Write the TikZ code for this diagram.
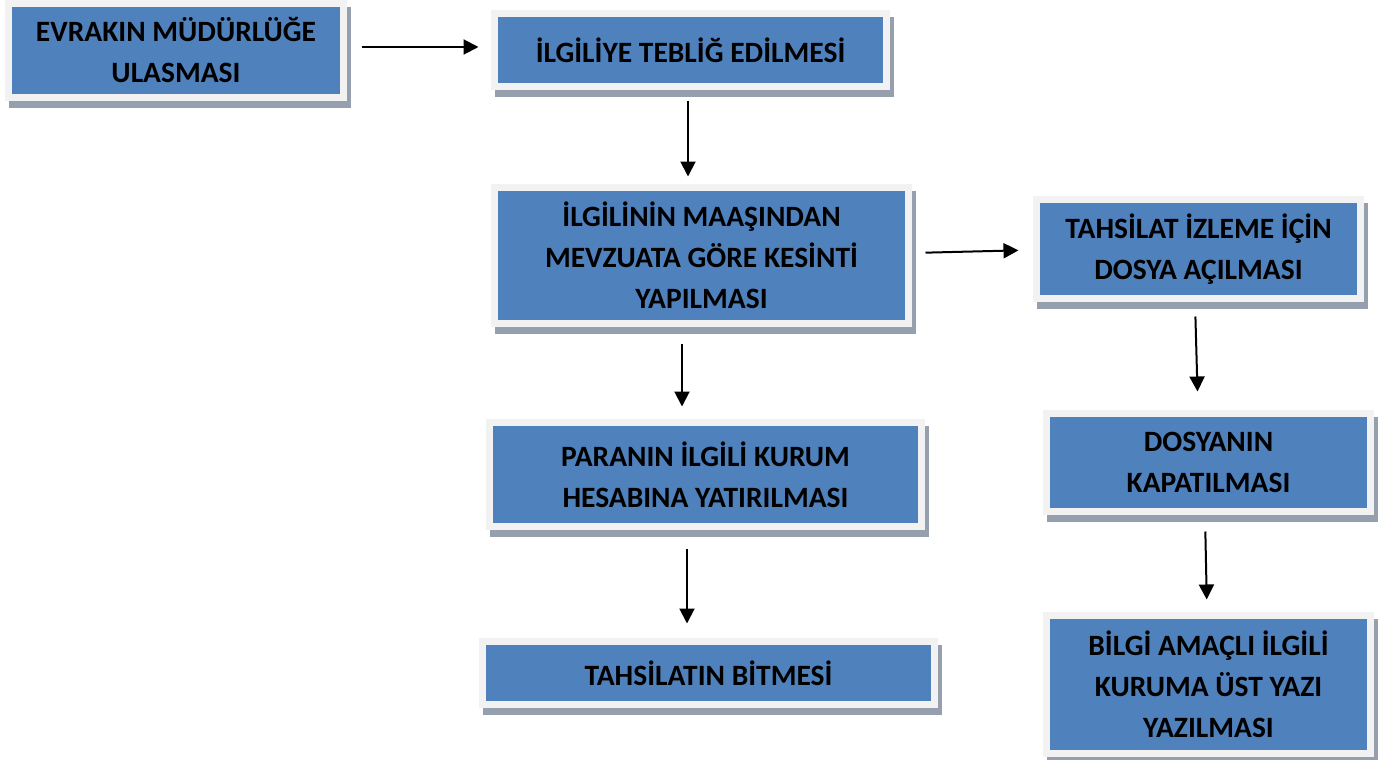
\documentclass[tikz,border=0pt]{standalone}
\usepackage{fontspec}
\newfontfamily\boxfont{Carlito}
\usepackage{tikz}
\usetikzlibrary{arrows.meta}
\definecolor{boxblue}{HTML}{4F81BD}
\definecolor{framegray}{HTML}{F2F2F2}
\definecolor{shadowgray}{HTML}{959FAE}

\begin{document}
\begin{tikzpicture}[x=1pt, y=-1pt,
    stepbox/.style={draw=framegray, line width=7pt, fill=boxblue,
      inner sep=0pt, align=center, text=black,
      font=\boxfont\bfseries\fontsize{29.5}{41}\selectfont,
      preaction={draw=shadowgray, fill=shadowgray, line width=7pt,
        transform canvas={xshift=4pt, yshift=-7pt}}},
    flow/.style={line width=2pt, -{Triangle[length=15pt, width=15pt]}}]
    \useasboundingbox (0,0) rectangle (1400,760);

    \node[stepbox, minimum width=335pt, minimum height=94pt] (evrak)
    at (176,50.5) {EVRAKIN MÜDÜRLÜĞE\\ULASMASI};
    \node[stepbox, minimum width=392pt, minimum height=73pt] (teblig)
    at (690.5,50) {İLGİLİYE TEBLİĞ EDİLMESİ};
    \node[stepbox, minimum width=414pt, minimum height=136pt] (kesinti)
    at (701.5,255.5) {İLGİLİNİN MAAŞINDAN\\MEVZUATA GÖRE KESİNTİ\\YAPILMASI};
    \node[stepbox, minimum width=324pt, minimum height=99pt] (dosya)
    at (1198.5,249) {TAHSİLAT İZLEME İÇİN\\DOSYA AÇILMASI};
    \node[stepbox, minimum width=432pt, minimum height=104pt] (para)
    at (705.5,474.5) {PARANIN İLGİLİ KURUM\\HESABINA YATIRILMASI};
    \node[stepbox, minimum width=452pt, minimum height=63pt] (bitis)
    at (708.5,673) {TAHSİLATIN BİTMESİ};
    \node[stepbox, minimum width=324pt, minimum height=98pt] (kapat)
    at (1208.5,462.5) {DOSYANIN\\KAPATILMASI};
    \node[stepbox, minimum width=324pt, minimum height=138pt] (yazi)
    at (1208.5,684.5) {BİLGİ AMAÇLI İLGİLİ\\KURUMA ÜST YAZI\\YAZILMASI};

    % arrows between the steps
    \draw[flow, shorten <=14.5pt, shorten >=12.5pt]
    ([yshift=3.5pt]evrak.east) -- ([yshift=3.5pt]evrak.east -| teblig.west);
    \draw[flow, shorten <=10.5pt, shorten >=7.5pt]
    ([xshift=-2.5pt]teblig.south) -- ([xshift=-2.5pt]teblig.south |- kesinti.north);
    \draw[flow, shorten <=13.5pt, shorten >=14.5pt]
    ([yshift=2.5pt]kesinti.east) -- ([yshift=-1pt]dosya.west);
    \draw[flow, shorten <=16.5pt, shorten >=12.5pt]
    ([xshift=-19.5pt]kesinti.south) -- ([xshift=-19.5pt]kesinti.south |- para.north);
    \draw[flow, shorten <=18.5pt, shorten >=14.5pt]
    ([xshift=-18.5pt]para.south) -- ([xshift=-18.5pt]para.south |- bitis.north);
    \draw[flow, shorten <=14.5pt, shorten >=18.5pt]
    ([xshift=-3.5pt]dosya.south) -- ([xshift=-10.5pt]kapat.north);
    \draw[flow, shorten <=16.5pt, shorten >=12.5pt]
    ([xshift=-3.5pt]kapat.south) -- ([xshift=-1.5pt]yazi.north);
\end{tikzpicture}
\end{document}
